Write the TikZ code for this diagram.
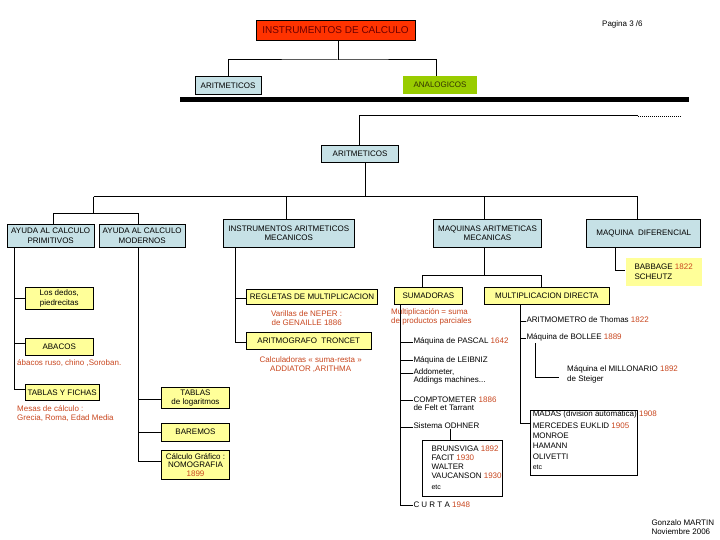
\documentclass[tikz,border=0pt]{standalone}
\usepackage{fontspec}
\setmainfont{Liberation Sans}
\usetikzlibrary{calc}
\definecolor{bluebx}{RGB}{198,225,230}
\definecolor{yelbx}{RGB}{255,255,153}
\definecolor{redbx}{RGB}{255,51,0}
\definecolor{greenbx}{RGB}{153,204,0}
\definecolor{redtxt}{RGB}{200,70,30}
\definecolor{titletxt}{RGB}{110,0,0}
\definecolor{olivetxt}{RGB}{51,51,0}
\newcommand\yr[1]{\textcolor{redtxt}{#1}}
\newcommand\smf{\fontsize{8}{9.5}\selectfont}
\begin{document}
\begin{tikzpicture}[x=1pt,y=-1pt,line width=1pt,
  sz/.style 2 args={minimum width=#1pt,minimum height=#2pt},
  bx/.style={draw=black,line width=0.9pt,inner sep=0pt,align=center,font=\smf},
  bluebox/.style={bx,fill=bluebx},
  yelbox/.style={bx,fill=yelbx},
  itm/.style={anchor=base west,inner sep=0pt,font=\smf},
  rtxt/.style={inner sep=0pt,font=\fontsize{8}{9}\selectfont,text=redtxt,align=center}]
\useasboundingbox (0,0) rectangle (720,540);

% ---- top level
\node[bx,fill=redbx,sz={159}{19.5},font=\fontsize{10}{12}\selectfont,text=titletxt] (title) at (335.5,30.5) {INSTRUMENTOS DE CALCULO};
\node[itm] (pag) at (601.7,27) {Pagina 3 /6};
\node[bluebox,sz={66}{17.6}] (arit1) at (228,85.5) {ARITMETICOS};
\node[inner sep=0pt,fill=greenbx,sz={73.4}{18.3},font=\smf,text=olivetxt] (analog) at (440,85.2) {ANALOGICOS};
\coordinate (h1) at (338,60);
\draw (title.south -| h1) -- (h1);
\draw (arit1.north) |- (h1) -| ([xshift=-3.3pt]analog.north);
\fill (180,96.7) rectangle (689,102.3);

% ---- ARITMETICOS
\node[bluebox,sz={76.6}{17.3}] (arit2) at (360,153.7) {ARITMETICOS};
\coordinate (h2) at (359.3,116);
\coordinate (h2r) at (638.3,116);
\coordinate (h2d) at (682,116);
\draw (arit2.north -| h2) -- (h2) -- (h2r);
\draw[line width=0.8pt,dash pattern=on 1pt off 1pt] (h2r) -- (h2d);

\node[bluebox,sz={86.7}{23}] (ayuda1) at (50.7,235.8) {AYUDA AL CALCULO\\PRIMITIVOS};
\node[bluebox,sz={85.7}{23}] (ayuda2) at (142.2,235.8) {AYUDA AL CALCULO\\MODERNOS};
\node[bluebox,sz={131}{28}] (instr) at (288.8,233.3) {INSTRUMENTOS ARITMETICOS\\MECANICOS};
\node[bluebox,sz={108.4}{28}] (maqar) at (487.5,233.3) {MAQUINAS ARITMETICAS\\MECANICAS};
\node[bluebox,sz={114}{28}] (maqdif) at (643.7,233.3) {MAQUINA\ \ DIFERENCIAL};

\coordinate (h3) at (365,196.7);
\coordinate (hl) at (93.7,196.7);
\coordinate (hr) at (637.7,196.7);
\coordinate (h4) at (93.7,213.3);
\draw (arit2.south -| h3) -- (h3);
\draw (hl) -- (hr);
\draw (hl) -- (h4);
\draw (ayuda1.north -| 53.3,0) |- (h4) -| (ayuda2.north -| 138.3,0);
\draw (instr.north -| 286.7,0) |- (hl);
\draw (maqar.north -| 484.3,0) |- (hl);
\draw (maqdif.north -| hr) |- (hl);

% ---- primitivos
\node[yelbox,sz={68.3}{22}] (dedos) at (59.2,298.3) {Los dedos,\\piedrecitas};
\node[yelbox,sz={68.3}{16.7}] (abacos) at (59.2,346.7) {ABACOS};
\node[yelbox,sz={74.3}{16.7}] (tablasf) at (62.2,392.3) {TABLAS Y FICHAS};
\node[rtxt,anchor=west] (abtxt) at (16.7,363.3) {ábacos ruso, chino ,Soroban.};
\node[rtxt,anchor=west,align=left] (mesas) at (16.7,413.8) {Mesas de cálculo :\\Grecia, Roma, Edad Media};
\draw (ayuda1.south -| 14.3,0) |- (dedos.west);
\draw (ayuda1.south -| 14.3,0) |- ([yshift=3.3pt]abacos.west);
\draw (ayuda1.south -| 14.3,0) |- ([yshift=3pt]tablasf.west);

% ---- modernos
\node[yelbox,sz={67.6}{20.6}] (tablaslog) at (195.5,398) {TABLAS\\de logaritmos};
\node[yelbox,sz={67.6}{17.7}] (baremos) at (195.5,432.2) {BAREMOS};
\node[yelbox,sz={67.6}{28.6},font=\fontsize{8}{8.6}\selectfont] (calculo) at (195.5,465) {Cálculo Gráfico :\\NOMOGRAFIA\\\yr{1899}};
\draw (ayuda2.south -| 138.3,0) |- ([yshift=-1.5pt]tablaslog.west);
\draw (ayuda2.south -| 138.3,0) |- (baremos.west);
\draw (ayuda2.south -| 138.3,0) |- ([yshift=3.3pt]calculo.west);

% ---- instrumentos mecanicos
\node[yelbox,sz={130.6}{15.3}] (regletas) at (312,296.7) {REGLETAS DE MULTIPLICACION};
\node[yelbox,sz={124.3}{16.7}] (aritmog) at (308.8,341) {ARITMOGRAFO\ \ TRONCET};
\node[rtxt] (neper) at (306.7,317.8) {Varillas de NEPER :\\de GENAILLE 1886};
\node[rtxt] (calcs) at (310.7,364.2) {Calculadoras « suma-resta »\\ADDIATOR ,ARITHMA};
\draw (instr.south -| 235.7,0) |- ([yshift=-1.6pt]regletas.west);
\draw (instr.south -| 235.7,0) |- ([yshift=-1.3pt]aritmog.west);

% ---- maquinas aritmeticas
\node[yelbox,sz={68.2}{16.7}] (sumadoras) at (428.4,295.7) {SUMADORAS};
\node[yelbox,sz={125}{16.7}] (multdir) at (546.8,295.7) {MULTIPLICACION DIRECTA};
\coordinate (h5) at (484.3,275.7);
\draw (maqar.south -| h5) -- (h5);
\draw (sumadoras.north -| 422.3,0) |- (h5) -| (multdir.north -| 541,0);
\node[rtxt,anchor=north west,align=left] (multsum) at (390.7,307.8) {Multiplicación = suma\\de productos parciales};

\node[itm] (pascal) at (413,343.8) {Máquina de PASCAL \yr{1642}};
\node[itm] (leibniz) at (413,362.2) {Máquina de LEIBNIZ};
\node[itm] (addo) at (413,374.8) {Addometer,};
\node[itm] (addo2) at (413,382.6) {Addings machines...};
\node[itm] (compt) at (413,402) {COMPTOMETER \yr{1886}};
\node[itm] (compt2) at (413,410.4) {de Felt et Tarrant};
\node[itm] (odhner) at (413,428.8) {Sistema ODHNER};
\node[itm] (curta) at (413,507.2) {C U R T A \yr{1948}};
\draw (sumadoras.south -| 400,0) |- ([yshift=1.5pt]pascal.base west);
\draw (sumadoras.south -| 400,0) |- ([yshift=1.5pt]leibniz.base west);
\draw (sumadoras.south -| 400,0) |- ([yshift=1.5pt]addo.base west);
\draw (sumadoras.south -| 400,0) |- ([yshift=1.3pt]compt.base west);
\draw (sumadoras.south -| 400,0) |- ([yshift=1.5pt]odhner.base west);
\draw (sumadoras.south -| 400,0) |- ([yshift=1.5pt]curta.base west);

\node[draw=black,line width=0.9pt,fill=white,sz={80}{56}] (odhnerbox) at (462.7,468) {};
\draw ([xshift=-12pt]odhnerbox.north) -- ([xshift=-12pt]odhnerbox.north |- odhner.south);
\node[itm] (brun) at (431,451.5) {BRUNSVIGA \yr{1892}};
\node[itm] (facit) at (431,460.2) {FACIT \yr{1930}};
\node[itm] (walter) at (431,469.2) {WALTER};
\node[itm] (vauc) at (431,478.5) {VAUCANSON \yr{1930}};
\node[itm,font=\fontsize{7}{8}\selectfont] (etc1) at (431,489) {etc};

% ---- multiplicacion directa
\node[itm] (aritmom) at (526,322.5) {ARITMOMETRO de Thomas \yr{1822}};
\node[itm] (bollee) at (526,339.8) {Máquina de BOLLEE \yr{1889}};
\node[itm] (millo) at (566.7,371.5) {Máquina el MILLONARIO \yr{1892}};
\node[itm] (millo2) at (566.7,381.5) {de Steiger};
\node[draw=black,line width=0.9pt,sz={106.6}{65}] (madas) at (584,442.5) {};
\node[itm] (madas1) at (532.3,416.8) {MADAS (division automática) \yr{1908}};
\node[itm] (madas2) at (532.3,428) {MERCEDES EUKLID \yr{1905}};
\node[itm] (madas3) at (532.3,438.8) {MONROE};
\node[itm] (madas4) at (532.3,448.6) {HAMANN};
\node[itm] (madas5) at (532.3,459) {OLIVETTI};
\node[itm,font=\fontsize{7}{8}\selectfont] (madas6) at (532.3,469.8) {etc};
\draw (multdir.south -| 520,0) |- ([yshift=1.5pt]aritmom.base west);
\draw (multdir.south -| 520,0) |- ([yshift=1.5pt]bollee.base west);
\draw (multdir.south -| 520,0) |- ([yshift=19.2pt]madas.west);
\draw ([xshift=9.7pt,yshift=-3.5pt]bollee.base west) |- ([xshift=-7.7pt,yshift=2pt]millo2.west);

% ---- maquina diferencial
\node[inner sep=0pt,fill=yelbx,sz={76}{27.4}] (babbage) at (663.7,272) {};
\node[itm] (bab1) at (634,269.2) {BABBAGE \yr{1822}};
\node[itm] (bab2) at (634,279.8) {SCHEUTZ};
\draw (maqdif.south -| 615.7,0) |- ([yshift=2pt]babbage.west);

% ---- author
\node[itm] (auth1) at (651,525.8) {Gonzalo MARTIN};
\node[itm] (auth2) at (651,534.8) {Noviembre 2006};
\end{tikzpicture}
\end{document}
